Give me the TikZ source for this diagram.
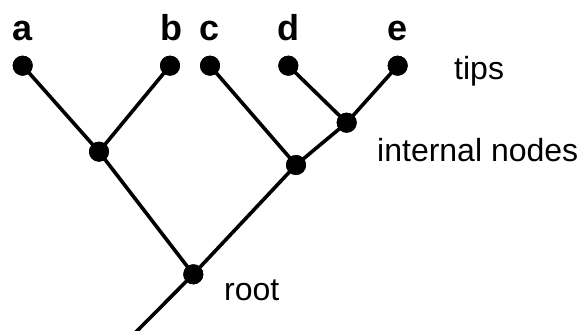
\documentclass[tikz,border=0pt]{standalone}
\usepackage{fontspec}
\setmainfont{Liberation Sans}
\begin{document}
\begin{tikzpicture}[x=1pt,y=-1pt,
  dot/.style={circle,fill=black,draw=none,inner sep=0pt,minimum size=20pt},
  edge/.style={line width=3.6pt,black},
  tiplabel/.style={inner sep=0pt,anchor=base,font=\fontsize{36}{40}\selectfont\bfseries},
  annot/.style={inner sep=0pt,anchor=base west,font=\fontsize{32}{38}\selectfont}]
\useasboundingbox (0,0) rectangle (585,331);
\clip (0,0) rectangle (585,331);
% nodes
\node[dot] (a) at (22.7,65.7) {};
\node[dot] (b) at (170,65.7) {};
\node[dot] (c) at (210,65.7) {};
\node[dot] (d) at (288.3,65.7) {};
\node[dot] (e) at (397.7,65.7) {};
\node[dot] (ab) at (99,151.7) {};
\node[dot] (de) at (346.7,122.7) {};
\node[dot] (cde) at (296,165) {};
\node[dot] (root) at (193.3,274.3) {};
\coordinate (stem) at (132,336);
% edges
\draw[edge] (a.center) -- (ab.center);
\draw[edge] (b.center) -- (ab.center);
\draw[edge] (c.center) -- (cde.center);
\draw[edge] (d.center) -- (de.center);
\draw[edge] (e.center) -- (de.center);
\draw[edge] (de.center) -- (cde.center);
\draw[edge] (ab.center) -- (root.center);
\draw[edge] (cde.center) -- (root.center);
\draw[edge] (root.center) -- (stem);
% redraw dots on top
\foreach \n in {a,b,c,d,e,ab,de,cde,root} \fill (\n) circle (10pt);
% labels
\node[tiplabel] (la) at (23,41) {a};
\node[tiplabel] (lb) at (171.7,41) {b};
\node[tiplabel] (lc) at (209.3,41) {c};
\node[tiplabel] (ld) at (288,41) {d};
\node[tiplabel] (le) at (397.5,41) {e};
\node[annot] (tips) at (454,80) {tips};
\node[annot] (internal) at (377,161) {internal nodes};
\node[annot] (rootlabel) at (224,300) {root};
\end{tikzpicture}
\end{document}
